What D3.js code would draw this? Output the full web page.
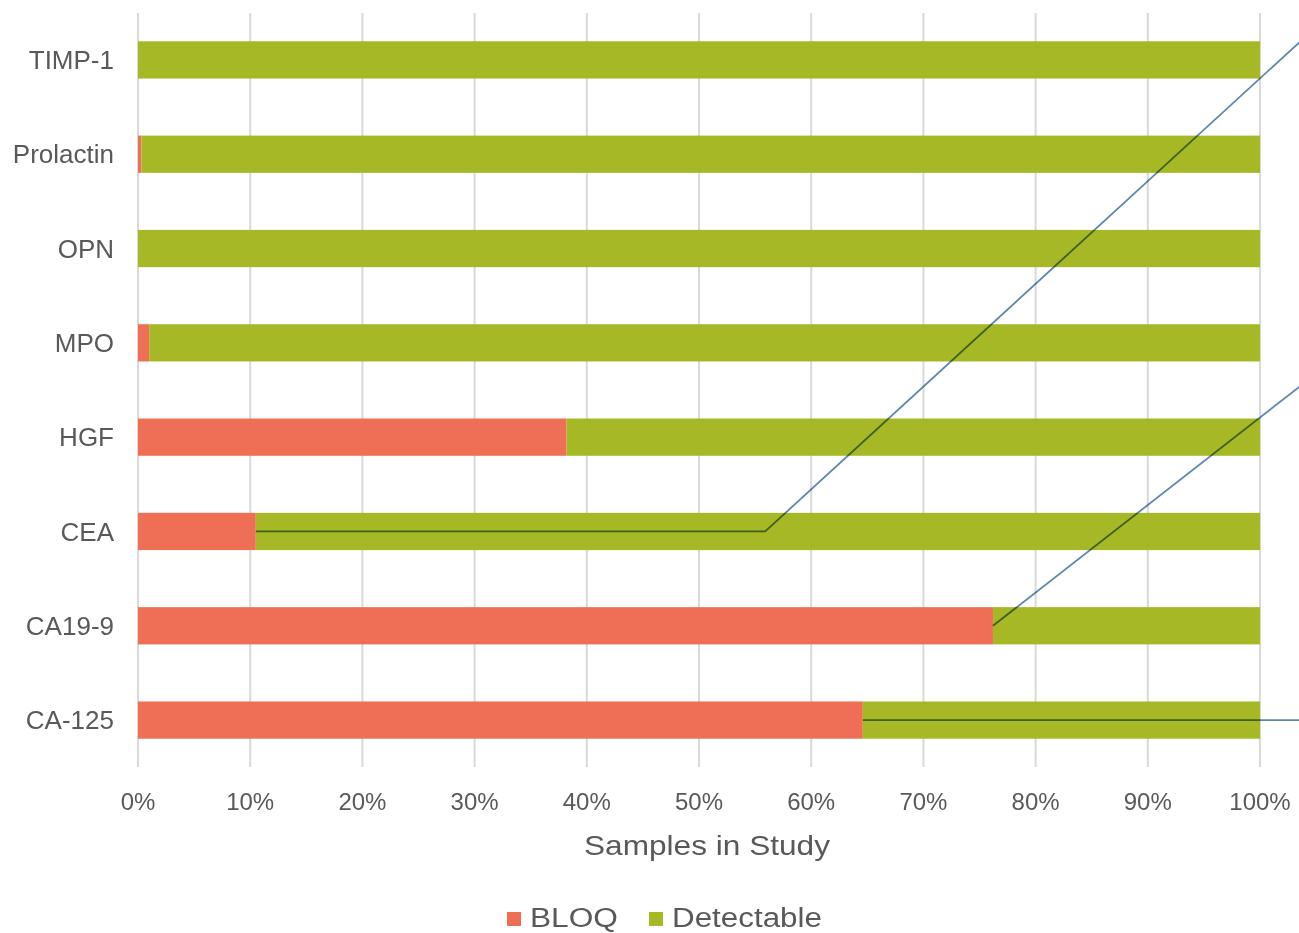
<!DOCTYPE html>
<html><head><meta charset="utf-8">
<script src="https://cdn.jsdelivr.net/npm/d3@7"></script>
<style>html,body{margin:0;padding:0;background:#fff;}svg{display:block;font-family:"Liberation Sans",Arial,sans-serif;}</style>
</head><body>
<svg id="chart" width="1299" height="933"></svg>
<script>
const categories = ["TIMP-1","Prolactin","OPN","MPO","HGF","CEA","CA19-9","CA-125"];
const bloq = [0, 0.3, 0, 1.0, 38.2, 10.5, 76.2, 64.6];
const detectable = bloq.map(v => 100 - v);
const xTicks = [0,10,20,30,40,50,60,70,80,90,100];
const seriesNames = ["BLOQ","Detectable"];
const seriesColors = ["#ef6f56","#a6b825"];
// callout lines: [percent, category index] points
const callouts = [
  [[10.5,5],[55.9,5],[104,-0.24]],
  [[76.2,6],[104,3.42]],
  [[64.6,7],[104,7]]
];

(function(){
const svg = d3.select("#chart");
const pL = 138, pR = 1260, pT = 13, pB = 767;
const x = d3.scaleLinear().domain([0,100]).range([pL,pR]);
const y = d3.scaleBand().domain(categories).range([pT,pB]).paddingInner(0.605).paddingOuter(0.3);
const yIdx = d3.scaleLinear().domain([0,1]).range([y(categories[0])+y.bandwidth()/2, y(categories[1])+y.bandwidth()/2]);

// grid
svg.append("g").selectAll("line").data(xTicks).join("line")
  .attr("x1",d=>x(d)).attr("x2",d=>x(d)).attr("y1",pT).attr("y2",pB)
  .attr("stroke","#d9d9d9").attr("stroke-width",2);

// bars
const rows = categories.map((c,i)=>({c, b:bloq[i], d:detectable[i]}));
const g = svg.append("g");
g.selectAll("rect.b").data(rows).join("rect").attr("class","b")
  .attr("x",x(0)).attr("y",d=>y(d.c)).attr("width",d=>x(d.b)-x(0)).attr("height",y.bandwidth())
  .attr("fill",seriesColors[0]);
g.selectAll("rect.d").data(rows).join("rect").attr("class","d")
  .attr("x",d=>x(d.b)).attr("y",d=>y(d.c)).attr("width",d=>x(d.b+d.d)-x(d.b)).attr("height",y.bandwidth())
  .attr("fill",seriesColors[1]);

// callouts
const line = d3.line().x(p=>x(p[0])).y(p=>yIdx(p[1]));
svg.append("g").selectAll("path").data(callouts).join("path")
  .attr("d",line).attr("fill","none").attr("stroke","#5f86b0").attr("stroke-width",1.8)
  .style("mix-blend-mode","multiply");

// y labels
svg.append("g").selectAll("text").data(categories).join("text")
  .attr("x",114).attr("y",d=>y(d)+y.bandwidth()/2).attr("dy","0.35em")
  .attr("text-anchor","end").attr("font-size",26).attr("fill","#595959").text(d=>d);

// x labels
svg.append("g").selectAll("text").data(xTicks).join("text")
  .attr("x",d=>x(d)).attr("y",810).attr("text-anchor","middle")
  .attr("font-size",24).attr("fill","#595959").text(d=>d+"%");

svg.append("text").attr("x",707).attr("y",855).attr("text-anchor","middle")
  .attr("font-size",28).attr("textLength",246).attr("lengthAdjust","spacingAndGlyphs")
  .attr("fill","#595959").text("Samples in Study");

// legend
const leg = [{x:507,tx:530,w:88},{x:649,tx:672,w:150}];
seriesNames.forEach((n,i)=>{
  svg.append("rect").attr("x",leg[i].x).attr("y",912).attr("width",14).attr("height",14).attr("fill",seriesColors[i]);
  svg.append("text").attr("x",leg[i].tx).attr("y",927).attr("font-size",27)
    .attr("textLength",leg[i].w).attr("lengthAdjust","spacingAndGlyphs")
    .attr("fill","#595959").text(n);
});
})();
</script>
</body></html>
